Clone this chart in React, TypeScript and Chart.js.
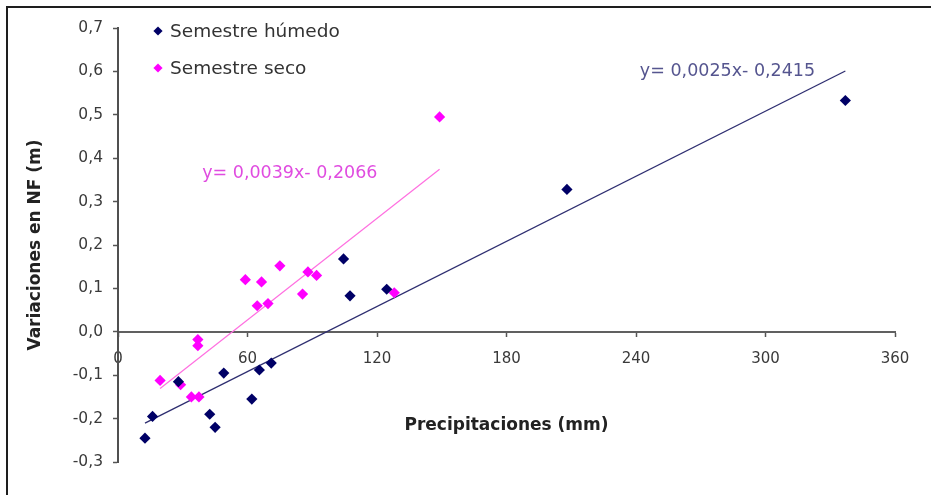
import React, { useEffect, useRef } from "react";
import { Chart, registerables } from "chart.js";

Chart.register(...registerables);

// Precipitación (mm) y variación del nivel freático (m), semestre húmedo
const humedoX = [12.5, 16, 28, 42.5, 45, 49, 62, 65.5, 71, 104.5, 107.5, 124.5, 208, 337];
const humedoY = [-0.245, -0.195, -0.115, -0.19, -0.22, -0.095, -0.155, -0.088, -0.072, 0.168, 0.083, 0.098, 0.328, 0.533];

// Semestre seco
const secoX = [19.5, 29, 34, 37.5, 37, 37, 59, 66.5, 64.5, 69.5, 75, 85.5, 88, 92, 128, 149];
const secoY = [-0.112, -0.122, -0.15, -0.15, -0.018, -0.032, 0.12, 0.115, 0.06, 0.065, 0.152, 0.087, 0.138, 0.13, 0.09, 0.495];

// Rectas de ajuste lineal (y = a·x + b)
const humedoSlope = 0.0025;
const humedoIntercept = -0.2415;
const secoSlope = 0.0039;
const secoIntercept = -0.2066;

const seriesNames = ["Semestre húmedo", "Semestre seco"];
const xTitle = "Precipitaciones (mm)";
const yTitle = "Variaciones en NF (m)";

const xMin = 0;
const xMax = 360;
const xStep = 60;
const yMin = -0.3;
const yMax = 0.7;
const yStep = 0.1;

const FONT = "'DejaVu Sans', 'Liberation Sans', Arial, sans-serif";
const HUMEDO_COLOR = "#000066";
const SECO_COLOR = "#ff00ff";

const fmtCoef = (v: number, digits: number) => v.toFixed(digits).replace(".", ",");
const eqText = (a: number, b: number) =>
  `y= ${fmtCoef(a, 4)}x${b < 0 ? "- " : "+ "}${fmtCoef(Math.abs(b), 4)}`;

const toPoints = (xs: number[], ys: number[]) => xs.map((x, i) => ({ x, y: ys[i] }));

const fitLine = (xs: number[], a: number, b: number) => {
  const lo = Math.min(...xs);
  const hi = Math.max(...xs);
  return [
    { x: lo, y: a * lo + b },
    { x: hi, y: a * hi + b },
  ];
};

export default function App() {
  const canvasRef = useRef<HTMLCanvasElement | null>(null);

  useEffect(() => {
    const canvas = canvasRef.current;
    if (!canvas) return;

    // Leyenda dentro del área del gráfico, arriba a la izquierda
    const keyPlugin = {
      id: "seriesKey",
      afterDraw(chart: any) {
        const { ctx, chartArea } = chart;
        const entries = chart.data.datasets.filter((d: any) => d.inKey);
        ctx.save();
        ctx.font = `18.5px ${FONT}`;
        ctx.textBaseline = "middle";
        ctx.textAlign = "left";
        entries.forEach((d: any, i: number) => {
          const cx = chartArea.left + 40;
          const cy = chartArea.top + 3 + i * 37;
          const r = 4.6;
          ctx.fillStyle = d.backgroundColor;
          ctx.beginPath();
          ctx.moveTo(cx, cy - r);
          ctx.lineTo(cx + r, cy);
          ctx.lineTo(cx, cy + r);
          ctx.lineTo(cx - r, cy);
          ctx.closePath();
          ctx.fill();
          ctx.fillStyle = "#333333";
          ctx.fillText(d.label, cx + 12, cy + 1);
        });
        ctx.restore();
      },
    };

    // Ecuaciones de las rectas de ajuste
    const eqLabels = [
      { text: eqText(humedoSlope, humedoIntercept), x: 323, y: 0.601, align: "right", color: "#55558f" },
      { text: eqText(secoSlope, secoIntercept), x: 39, y: 0.364, align: "left", color: "#e04ce0" },
    ];
    const eqPlugin = {
      id: "fitEquations",
      afterDatasetsDraw(chart: any) {
        const { ctx, scales } = chart;
        ctx.save();
        ctx.font = `17.5px ${FONT}`;
        ctx.textBaseline = "middle";
        eqLabels.forEach((l) => {
          ctx.textAlign = l.align as CanvasTextAlign;
          ctx.fillStyle = l.color;
          ctx.fillText(l.text, scales.x.getPixelForValue(l.x), scales.y.getPixelForValue(l.y));
        });
        ctx.restore();
      },
    };

    const chart = new Chart(canvas, {
      type: "scatter",
      data: {
        datasets: [
          {
            label: seriesNames[0],
            inKey: true,
            data: toPoints(humedoX, humedoY),
            backgroundColor: HUMEDO_COLOR,
            borderColor: HUMEDO_COLOR,
            borderWidth: 0,
            pointStyle: "rectRot",
            pointRadius: 5.6,
          } as any,
          {
            label: seriesNames[1],
            inKey: true,
            data: toPoints(secoX, secoY),
            backgroundColor: SECO_COLOR,
            borderColor: SECO_COLOR,
            borderWidth: 0,
            pointStyle: "rectRot",
            pointRadius: 5.6,
          } as any,
          {
            label: "Lineal (Semestre húmedo)",
            data: fitLine(humedoX, humedoSlope, humedoIntercept),
            showLine: true,
            borderColor: "#2e2e70",
            borderWidth: 1.3,
            pointRadius: 0,
          },
          {
            label: "Lineal (Semestre seco)",
            data: fitLine(secoX, secoSlope, secoIntercept),
            showLine: true,
            borderColor: "#ff6fe0",
            borderWidth: 1.2,
            pointRadius: 0,
          },
        ],
      },
      options: {
        responsive: false,
        animation: false,
        devicePixelRatio: 1,
        layout: { padding: { left: 0, top: 28, right: 36, bottom: 33 } },
        plugins: {
          legend: { display: false },
          tooltip: { enabled: false },
        },
        scales: {
          x: {
            type: "linear",
            position: { y: 0 } as any,
            min: xMin,
            max: xMax,
            ticks: {
              stepSize: xStep,
              font: { family: FONT, size: 15 },
              color: "#3a3a3a",
              padding: 14,
            },
            grid: { drawOnChartArea: false, drawTicks: true, tickLength: 4, tickColor: "#555555", tickWidth: 1.5 },
            border: { color: "#606060", width: 2 },
            title: {
              display: true,
              text: xTitle,
              font: { family: FONT, size: 17, weight: "bold" },
              color: "#222222",
              padding: { top: 34, bottom: 0 },
            },
          },
          y: {
            type: "linear",
            position: "left",
            min: yMin,
            max: yMax,
            afterFit: (scale: any) => {
              scale.width = 118;
            },
            ticks: {
              stepSize: yStep,
              font: { family: FONT, size: 15.5 },
              color: "#3a3a3a",
              padding: 10,
              callback: (v: any) => {
                const n = Math.abs(Number(v)) < 1e-9 ? 0 : Number(v);
                return n.toFixed(1).replace(".", ",");
              },
            },
            grid: { drawOnChartArea: false, drawTicks: true, tickLength: 5, tickColor: "#555555", tickWidth: 1.5 },
            border: { color: "#505050", width: 2 },
            title: {
              display: true,
              text: yTitle,
              font: { family: FONT, size: 17, weight: "bold" },
              color: "#222222",
              padding: { top: 25, bottom: 0 },
            },
          },
        },
      },
      plugins: [keyPlugin, eqPlugin],
    } as any);

    return () => chart.destroy();
  }, []);

  return (
    <div
      style={{
        position: "fixed",
        left: 0,
        top: 0,
        width: 931,
        height: 495,
        overflow: "hidden",
        background: "#ffffff",
      }}
    >
      <div
        style={{
          position: "absolute",
          left: 6,
          top: 6,
          width: 1000,
          height: 600,
          border: "2px solid #1e1e1e",
          boxShadow: "1px 1px 1px #9a9a9a",
        }}
      />
      <canvas
        ref={canvasRef}
        width={931}
        height={495}
        style={{ position: "absolute", left: 0, top: 0, width: 931, height: 495 }}
      />
    </div>
  );
}
